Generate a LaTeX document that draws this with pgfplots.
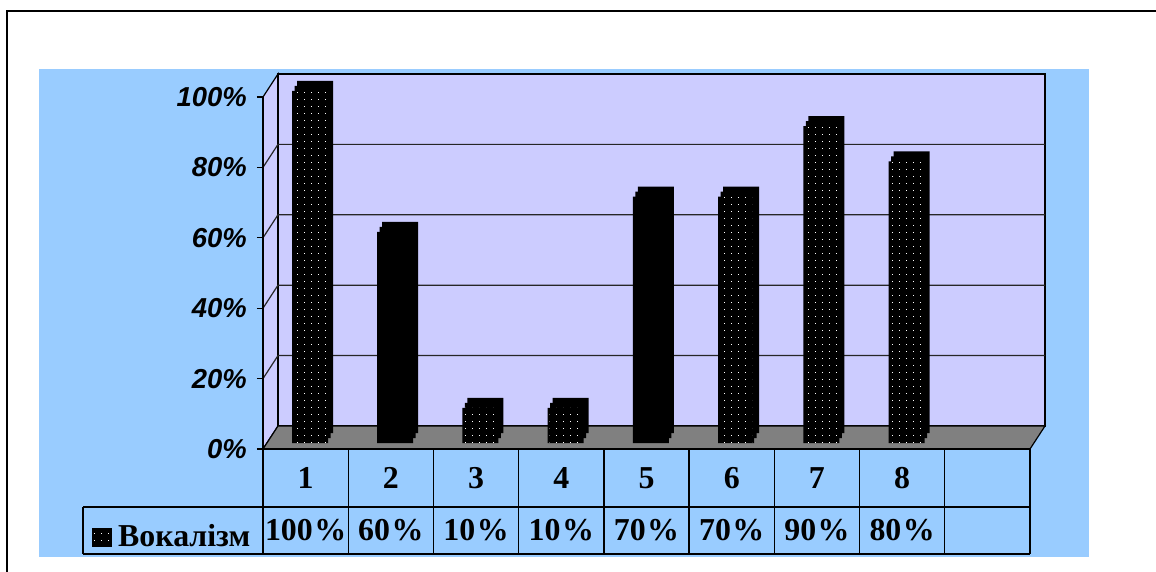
\documentclass[border=0pt]{standalone}
\usepackage{fontspec}
\usepackage{pgfplots}
\usepackage{pgfplotstable}
\pgfplotsset{compat=1.18}
\usetikzlibrary{patterns}
\newfontfamily\ysans{Liberation Sans}
\newfontfamily\tserif{Liberation Serif}
\definecolor{chartblue}{HTML}{99CCFF}
\definecolor{wall}{HTML}{CCCCFF}
\definecolor{floorgray}{HTML}{808080}
\pgfdeclarepatternformonly{wdots}{\pgfqpoint{-1bp}{-1bp}}{\pgfqpoint{8bp}{8bp}}{\pgfqpoint{7bp}{7bp}}{%
  \pgfpathrectangle{\pgfqpoint{3bp}{3bp}}{\pgfqpoint{1bp}{1bp}}\pgfusepath{fill}}
\newcommand\yfont{\ysans\bfseries\itshape\fontsize{27.5}{30}\selectfont}
\newcommand\tfont{\tserif\bfseries\fontsize{32}{34}\selectfont}
\newcommand\pc{\kern1.5bp\%}

\pgfplotstableread{
x   y
0.5 100
1.5 60
2.5 10
3.5 10
4.5 70
5.5 70
6.5 90
7.5 80
}\vokal

\begin{document}
\begin{tikzpicture}
\path[use as bounding box, fill=white] (-263bp,-123bp) rectangle (893bp,449bp);
% outer frame
\draw[line width=2bp] (-256bp,-125bp) -- (-256bp,438bp) -- (895bp,438bp);
% chart area
\fill[chartblue] (-224bp,-108bp) rectangle (826bp,380bp);
% side wall
\filldraw[fill=wall, draw=black, line width=1.2bp] (0,0) -- (0,352bp) -- (15bp,375bp) -- (15bp,23bp) -- cycle;
% back wall
\filldraw[fill=wall, draw=black, line width=1.6bp] (15bp,23bp) rectangle (782bp,375bp);
\foreach \k in {1,...,4} {
  \draw[line width=1.2bp, black!85] (0,\k*70.4bp) -- (15bp,23bp+\k*70.4bp) -- (782bp,23bp+\k*70.4bp);
}
% floor
\filldraw[fill=floorgray, draw=black, line width=1.2bp] (0,0) -- (767bp,0) -- (782bp,23bp) -- (15bp,23bp) -- cycle;
% data table grid
\draw[line width=1.3bp] (0,0) -- (767bp,0);
\draw[line width=1.3bp] (-180bp,-58bp) -- (767bp,-58bp);
\draw[line width=1.3bp] (-180bp,-105bp) -- (767bp,-105bp);
\draw[line width=1.3bp] (-180bp,-58bp) -- (-180bp,-105bp);
\foreach \k in {0,...,9} {
  \draw[line width=1.3bp] (\k*85.222bp,0) -- (\k*85.222bp,-105bp);
}
% legend key
\fill[black] (-171bp,-79bp) rectangle (-151bp,-98bp);
\fill[pattern=wdots, pattern color=white] (-169bp,-81bp) rectangle (-153bp,-96bp);
\node[anchor=base west, inner sep=0pt, font=\tfont] at (-145bp,-97bp) {Вокалізм};

\begin{axis}[
  at={(0,0)}, anchor=south west,
  scale only axis, width=767bp, height=352bp,
  xmin=0, xmax=9, ymin=0, ymax=100,
  clip=false,
  axis y line*=left, axis x line*=bottom,
  x axis line style={draw=none},
  y axis line style={line width=1.3bp, black},
  ytick={0,20,...,100},
  ytick align=outside, major tick length=6bp,
  ytick style={line width=1.3bp, black},
  /pgf/number format/assume math mode=true,
  yticklabel={\pgfmathprintnumber{\tick}\%},
  yticklabel style={font=\yfont, anchor=east, inner sep=0pt, xshift=-10bp},
  xtick={0.5,1.5,...,7.5},
  xticklabels={1,2,3,4,5,6,7,8},
  xtick style={draw=none},
  xticklabel style={font=\tfont, anchor=center, inner sep=0pt, yshift=-29bp},
  extra x ticks={0.5,1.5,...,7.5},
  extra x tick labels={100\pc,60\pc,10\pc,10\pc,70\pc,70\pc,90\pc,80\pc},
  extra x tick style={xticklabel style={yshift=-52.5bp}, tick style={draw=none}},
]
\addplot[ybar, bar shift=0pt, bar width=36bp, fill=black, draw=none, xshift=9.4bp, yshift=16bp] table[x=x, y=y] {\vokal};
\addplot[ybar, bar shift=0pt, bar width=36bp, fill=black, draw=none, xshift=6.9bp, yshift=11bp] table[x=x, y=y] {\vokal};
\addplot[ybar, bar shift=0pt, bar width=36bp, fill=black, draw=none, xshift=4.4bp, yshift=6bp] table[x=x, y=y] {\vokal};
% dotted fill pattern on the front faces (bars 2 and 5 render solid in the original)
\addplot[ybar, bar shift=0pt, bar width=32bp, draw=none, xshift=4.4bp, yshift=6bp,
  pattern=wdots, pattern color=white,
  x filter/.expression={or(x==1.5, x==4.5) ? nan : x}] table[x=x, y=y] {\vokal};
\end{axis}
\end{tikzpicture}
\end{document}
